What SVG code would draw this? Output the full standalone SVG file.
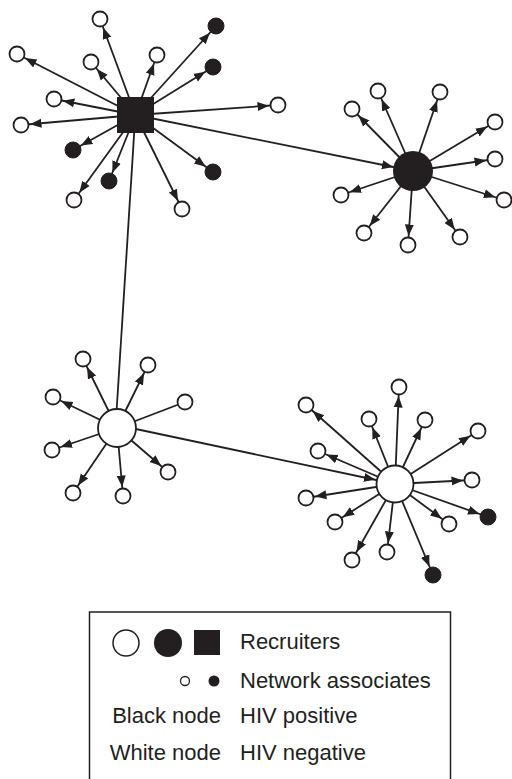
<svg xmlns="http://www.w3.org/2000/svg" width="512" height="779" viewBox="0 0 512 779">
  <style>
    .edge { stroke: #231f20; stroke-width: 1.8; fill: none; }
    .arr { marker-end: url(#tipSat); }
    .arrHub { marker-end: url(#tipHub); }
    .w { fill: #ffffff; stroke: #231f20; stroke-width: 1.8; }
    .b { fill: #231f20; stroke: #231f20; stroke-width: 1; }
    .hubW { fill: #ffffff; stroke: #231f20; stroke-width: 1.8; }
    .hubB { fill: #231f20; }
    .lbl { font-family: "Liberation Sans", Arial, sans-serif; font-size: 22px; fill: #231f20; }
  </style>
  <defs>
    <!-- arrowhead whose tip stops at the rim of a small node (r ~9) -->
    <marker id="tipSat" markerUnits="userSpaceOnUse" viewBox="0 -6 30 12" markerWidth="30" markerHeight="12" refX="20.5" refY="0" orient="auto">
      <path d="M0,-4.5 L11.5,0 L0,4.5 Z" fill="#231f20"/>
    </marker>
    <!-- arrowhead whose tip stops at the rim of a recruiter node (r ~20) -->
    <marker id="tipHub" markerUnits="userSpaceOnUse" viewBox="0 -6 40 12" markerWidth="40" markerHeight="12" refX="31.5" refY="0" orient="auto">
      <path d="M0,-4.5 L11.5,0 L0,4.5 Z" fill="#231f20"/>
    </marker>
  </defs>

  <g id="connectors">
    <!-- recruiter to recruiter -->
    <line class="edge arrHub" x1="135.5" y1="115" x2="413" y2="171"/>
    <line class="edge" x1="135" y1="120" x2="116" y2="420"/>
    <line class="edge arrHub" x1="117" y1="425" x2="395" y2="484"/>

    <!-- square recruiter -->
    <line class="edge arr" x1="135.5" y1="115" x2="100" y2="19"/>
    <line class="edge arr" x1="135.5" y1="115" x2="216" y2="26"/>
    <line class="edge arr" x1="135.5" y1="115" x2="17" y2="54"/>
    <line class="edge arr" x1="135.5" y1="115" x2="91" y2="62"/>
    <line class="edge arr" x1="135.5" y1="115" x2="157" y2="55"/>
    <line class="edge arr" x1="135.5" y1="115" x2="213" y2="67"/>
    <line class="edge arr" x1="135.5" y1="115" x2="54" y2="99"/>
    <line class="edge arr" x1="135.5" y1="115" x2="278" y2="105"/>
    <line class="edge arr" x1="135.5" y1="115" x2="21" y2="125"/>
    <line class="edge arr" x1="135.5" y1="115" x2="73" y2="150"/>
    <line class="edge arr" x1="135.5" y1="115" x2="109" y2="181"/>
    <line class="edge arr" x1="135.5" y1="115" x2="213" y2="172"/>
    <line class="edge arr" x1="135.5" y1="115" x2="74" y2="200"/>
    <line class="edge arr" x1="135.5" y1="115" x2="182" y2="209"/>

    <!-- black recruiter -->
    <line class="edge arr" x1="413" y1="171" x2="378" y2="91"/>
    <line class="edge arr" x1="413" y1="171" x2="440" y2="92"/>
    <line class="edge arr" x1="413" y1="171" x2="352" y2="109"/>
    <line class="edge arr" x1="413" y1="171" x2="495" y2="122"/>
    <line class="edge arr" x1="413" y1="171" x2="495" y2="159"/>
    <line class="edge arr" x1="413" y1="171" x2="504" y2="200"/>
    <line class="edge arr" x1="413" y1="171" x2="341" y2="195"/>
    <line class="edge arr" x1="413" y1="171" x2="364" y2="233"/>
    <line class="edge arr" x1="413" y1="171" x2="408" y2="245"/>
    <line class="edge arr" x1="413" y1="171" x2="460" y2="237"/>

    <!-- white recruiter, left -->
    <line class="edge arr" x1="117" y1="428" x2="83" y2="359"/>
    <line class="edge arr" x1="117" y1="428" x2="148" y2="365"/>
    <line class="edge arr" x1="117" y1="428" x2="53" y2="397"/>
    <line class="edge" x1="117" y1="428" x2="185" y2="402"/>
    <line class="edge arr" x1="117" y1="428" x2="52" y2="450"/>
    <line class="edge arr" x1="117" y1="428" x2="168" y2="472"/>
    <line class="edge arr" x1="117" y1="428" x2="73" y2="493"/>
    <line class="edge arr" x1="117" y1="428" x2="123" y2="496"/>

    <!-- white recruiter, right -->
    <line class="edge arr" x1="395" y1="484" x2="399" y2="387"/>
    <line class="edge arr" x1="395" y1="484" x2="306" y2="405"/>
    <line class="edge arr" x1="395" y1="484" x2="369" y2="419"/>
    <line class="edge arr" x1="395" y1="484" x2="425" y2="420"/>
    <line class="edge arr" x1="395" y1="484" x2="478" y2="431"/>
    <line class="edge arr" x1="395" y1="484" x2="318" y2="451"/>
    <line class="edge arr" x1="395" y1="484" x2="472" y2="480"/>
    <line class="edge arr" x1="395" y1="484" x2="306" y2="498"/>
    <line class="edge arr" x1="395" y1="484" x2="488" y2="517"/>
    <line class="edge arr" x1="395" y1="484" x2="335" y2="522"/>
    <line class="edge arr" x1="395" y1="484" x2="449" y2="524"/>
    <line class="edge arr" x1="395" y1="484" x2="352" y2="560"/>
    <line class="edge arr" x1="395" y1="484" x2="387" y2="552"/>
    <line class="edge arr" x1="395" y1="484" x2="433" y2="575"/>
  </g>

  <!-- associates of the square recruiter -->
  <g id="s1-1"><circle class="w" cx="100" cy="19" r="7.5"/></g>
  <g id="s1-2"><circle class="b" cx="216" cy="26" r="8"/></g>
  <g id="s1-3"><circle class="w" cx="17" cy="54" r="7.5"/></g>
  <g id="s1-4"><circle class="w" cx="91" cy="62" r="7.5"/></g>
  <g id="s1-5"><circle class="w" cx="157" cy="55" r="7.5"/></g>
  <g id="s1-6"><circle class="b" cx="213" cy="67" r="8"/></g>
  <g id="s1-7"><circle class="w" cx="54" cy="99" r="7.5"/></g>
  <g id="s1-8"><circle class="w" cx="278" cy="105" r="7.5"/></g>
  <g id="s1-9"><circle class="w" cx="21" cy="125" r="7.5"/></g>
  <g id="s1-10"><circle class="b" cx="73" cy="150" r="8"/></g>
  <g id="s1-11"><circle class="b" cx="109" cy="181" r="8"/></g>
  <g id="s1-12"><circle class="b" cx="213" cy="172" r="8"/></g>
  <g id="s1-13"><circle class="w" cx="74" cy="200" r="7.5"/></g>
  <g id="s1-14"><circle class="w" cx="182" cy="209" r="7.5"/></g>

  <!-- associates of the black recruiter -->
  <g id="s2-1"><circle class="w" cx="378" cy="91" r="7.5"/></g>
  <g id="s2-2"><circle class="w" cx="440" cy="92" r="7.5"/></g>
  <g id="s2-3"><circle class="w" cx="352" cy="109" r="7.5"/></g>
  <g id="s2-4"><circle class="w" cx="495" cy="122" r="7.5"/></g>
  <g id="s2-5"><circle class="w" cx="495" cy="159" r="7.5"/></g>
  <g id="s2-6"><circle class="w" cx="504" cy="200" r="7.5"/></g>
  <g id="s2-7"><circle class="w" cx="341" cy="195" r="7.5"/></g>
  <g id="s2-8"><circle class="w" cx="364" cy="233" r="7.5"/></g>
  <g id="s2-9"><circle class="w" cx="408" cy="245" r="7.5"/></g>
  <g id="s2-10"><circle class="w" cx="460" cy="237" r="7.5"/></g>

  <!-- associates of the left white recruiter -->
  <g id="s3-1"><circle class="w" cx="83" cy="359" r="7.5"/></g>
  <g id="s3-2"><circle class="w" cx="148" cy="365" r="7.5"/></g>
  <g id="s3-3"><circle class="w" cx="53" cy="397" r="7.5"/></g>
  <g id="s3-4"><circle class="w" cx="185" cy="402" r="7.5"/></g>
  <g id="s3-5"><circle class="w" cx="52" cy="450" r="7.5"/></g>
  <g id="s3-6"><circle class="w" cx="168" cy="472" r="7.5"/></g>
  <g id="s3-7"><circle class="w" cx="73" cy="493" r="7.5"/></g>
  <g id="s3-8"><circle class="w" cx="123" cy="496" r="7.5"/></g>

  <!-- associates of the right white recruiter -->
  <g id="s4-1"><circle class="w" cx="399" cy="387" r="7.5"/></g>
  <g id="s4-2"><circle class="w" cx="306" cy="405" r="7.5"/></g>
  <g id="s4-3"><circle class="w" cx="369" cy="419" r="7.5"/></g>
  <g id="s4-4"><circle class="w" cx="425" cy="420" r="7.5"/></g>
  <g id="s4-5"><circle class="w" cx="478" cy="431" r="7.5"/></g>
  <g id="s4-6"><circle class="w" cx="318" cy="451" r="7.5"/></g>
  <g id="s4-7"><circle class="w" cx="472" cy="480" r="7.5"/></g>
  <g id="s4-8"><circle class="w" cx="306" cy="498" r="7.5"/></g>
  <g id="s4-9"><circle class="b" cx="488" cy="517" r="8"/></g>
  <g id="s4-10"><circle class="w" cx="335" cy="522" r="7.5"/></g>
  <g id="s4-11"><circle class="w" cx="449" cy="524" r="7.5"/></g>
  <g id="s4-12"><circle class="w" cx="352" cy="560" r="7.5"/></g>
  <g id="s4-13"><circle class="w" cx="387" cy="552" r="7.5"/></g>
  <g id="s4-14"><circle class="b" cx="433" cy="575" r="8"/></g>

  <!-- recruiters -->
  <g id="r1"><rect class="hubB" x="117" y="97" width="37" height="36"/></g>
  <g id="r2"><circle class="hubB" cx="413" cy="171" r="20"/></g>
  <g id="r3"><circle class="hubW" cx="117" cy="428" r="19"/></g>
  <g id="r4"><circle class="hubW" cx="395" cy="484" r="18.5"/></g>

  <!-- key -->
  <g id="legend">
    <rect x="89.5" y="612" width="361" height="200" fill="none" stroke="#231f20" stroke-width="1.5"/>
    <circle cx="126" cy="643" r="13" fill="#ffffff" stroke="#231f20" stroke-width="1.5"/>
    <circle cx="168" cy="643" r="14" fill="#231f20"/>
    <rect x="194" y="630" width="26" height="25" fill="#231f20"/>
    <text class="lbl" x="240" y="649">Recruiters</text>
    <circle cx="185" cy="681" r="4.5" fill="#ffffff" stroke="#231f20" stroke-width="1.3"/>
    <circle cx="214" cy="681" r="5.5" fill="#231f20"/>
    <text class="lbl" x="240" y="688">Network associates</text>
    <text class="lbl" x="221" y="723" text-anchor="end">Black node</text>
    <text class="lbl" x="240" y="723">HIV positive</text>
    <text class="lbl" x="221" y="760" text-anchor="end">White node</text>
    <text class="lbl" x="240" y="760">HIV negative</text>
  </g>
</svg>
